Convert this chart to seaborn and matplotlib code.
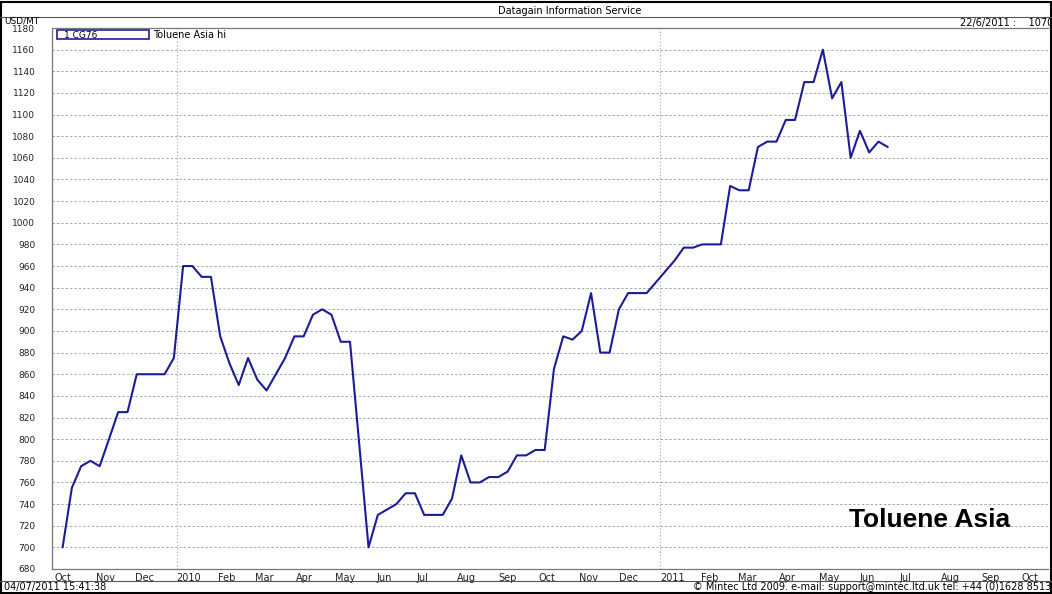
import matplotlib
matplotlib.use("Agg")
import matplotlib.pyplot as plt
import matplotlib.dates as mdates
from matplotlib.lines import Line2D
from matplotlib.patches import Rectangle
import seaborn as sns
import pandas as pd

# prix hebdo Toluene Asia (USD/MT), du 7/10/2009 au 22/6/2011
debut = "2009-10-07"
prix = [
    700, 755, 775, 780, 775, 800, 825, 825, 860, 860, 860, 860, 875,
    960, 960, 950, 950, 895, 870, 850, 875, 855, 845, 860, 875, 895,
    895, 915, 920, 915, 890, 890, 795, 700, 730, 735, 740, 750, 750,
    730, 730, 730, 745, 785, 760, 760, 765, 765, 770, 785, 785, 790,
    790, 865, 895, 892, 900, 935, 880, 880, 920, 935, 935, 935, 945,
    955, 965, 977, 977, 980, 980, 980, 1034, 1030, 1030, 1070, 1075, 1075,
    1095, 1095, 1130, 1130, 1160, 1115, 1130, 1060, 1085, 1065, 1075, 1070,
]
mois_ticks = [
    "2009-10-01", "2009-11-01", "2009-12-01", "2010-01-01", "2010-02-01",
    "2010-03-01", "2010-04-01", "2010-05-01", "2010-06-01", "2010-07-01",
    "2010-08-01", "2010-09-01", "2010-10-01", "2010-11-01", "2010-12-01",
    "2011-01-01", "2011-02-01", "2011-03-01", "2011-04-01", "2011-05-01",
    "2011-06-01", "2011-07-01", "2011-08-01", "2011-09-01", "2011-10-01",
]
mois_labels = [
    "Oct", "Nov", "Dec", "2010", "Feb", "Mar", "Apr", "May", "Jun", "Jul",
    "Aug", "Sep", "Oct", "Nov", "Dec", "2011", "Feb", "Mar", "Apr", "May",
    "Jun", "Jul", "Aug", "Sep", "Oct",
]
annees = ["2010-01-01", "2011-01-01"]
y_ticks = list(range(680, 1181, 20))

data = pd.DataFrame({
    "DATE": pd.date_range(debut, periods=len(prix), freq="7D"),
    "PRIX": prix,
})

sns.set_style("white")
plt.rcParams["font.family"] = ["DejaVu Sans"]
plt.rcParams["text.color"] = "black"

fig = plt.figure(figsize=(10.52, 5.94), dpi=100)
ax = fig.add_axes([52 / 1052, 25 / 594, 996 / 1052, 541 / 594])

sns.lineplot(data=data, x="DATE", y="PRIX", ax=ax, color="#1c1c96", linewidth=1.5)

ax.set_xlim(pd.Timestamp("2009-09-29"), pd.Timestamp("2011-10-21"))
ax.set_ylim(680, 1180)
ax.set_xlabel("")
ax.set_ylabel("")

# grille : tirets horizontaux, pointilles aux changements d'annee
for v in y_ticks[1:-1]:
    ax.axhline(v, color="#a8a8a8", linestyle=(0, (2.5, 2)), linewidth=0.7, zorder=0)
for a in annees:
    ax.axvline(pd.Timestamp(a), color="#a8a8a8", linestyle=(0, (1, 2)), linewidth=0.8, zorder=0)

ax.set_yticks(y_ticks)
ax.set_yticklabels([str(v) for v in y_ticks], fontsize=6.5, color="#222222")
ax.set_xticks([mdates.date2num(pd.Timestamp(d)) for d in mois_ticks])
ax.set_xticklabels(mois_labels, fontsize=7, color="#222222", ha="left")
ax.tick_params(axis="both", length=3, width=0.8, color="#555555")
ax.tick_params(axis="y", pad=9)
ax.tick_params(axis="x", pad=0)

for s in ["left", "bottom", "top"]:
    ax.spines[s].set_color("#777777")
    ax.spines[s].set_linewidth(0.9)
ax.spines["right"].set_visible(False)

# legende facon Datagain
ax.add_patch(Rectangle((0.005, 0.9795), 0.092, 0.016, transform=ax.transAxes,
                       fill=False, edgecolor="#1c1c96", linewidth=1.2, clip_on=False))
ax.text(0.012, 0.987, "1 CG76", transform=ax.transAxes, fontsize=6.5, va="center", ha="left")
ax.text(0.101, 0.987, "Toluene Asia hi", transform=ax.transAxes, fontsize=7, va="center", ha="left")

ax.text(930 / 1052, 1 - 520 / 594, "Toluene Asia", transform=fig.transFigure, fontsize=19,
        fontweight="bold", family=["Liberation Sans", "DejaVu Sans"], ha="center", va="center",
        color="black")

# entete et pied de page
fig.text(570 / 1052, 1 - 11 / 594, "Datagain Information Service", fontsize=7, ha="center", va="center")
fig.text(4 / 1052, 1 - 21 / 594, "USD/MT", fontsize=6.5, ha="left", va="center")
fig.text(960 / 1052, 1 - 23 / 594, "22/6/2011 :    1070", fontsize=7, ha="left", va="center")
fig.text(4 / 1052, 1 - 587 / 594, "04/07/2011 15:41:38", fontsize=7, ha="left", va="center")
fig.text(1051 / 1052, 1 - 587 / 594, "© Mintec Ltd 2009. e-mail: support@mintec.ltd.uk tel: +44 (0)1628 8513",
         fontsize=7, ha="right", va="center")

fig.add_artist(Line2D([0, 1], [1 - 17 / 594, 1 - 17 / 594], transform=fig.transFigure, color="#555555", linewidth=0.8))
fig.add_artist(Line2D([0, 1], [1 - 581 / 594, 1 - 581 / 594], transform=fig.transFigure, color="#555555", linewidth=0.8))
fig.add_artist(Rectangle((0.001, 0.002), 0.998, 0.994, transform=fig.transFigure, fill=False,
                         edgecolor="black", linewidth=1.5))

fig.savefig("out.png", dpi=100)
